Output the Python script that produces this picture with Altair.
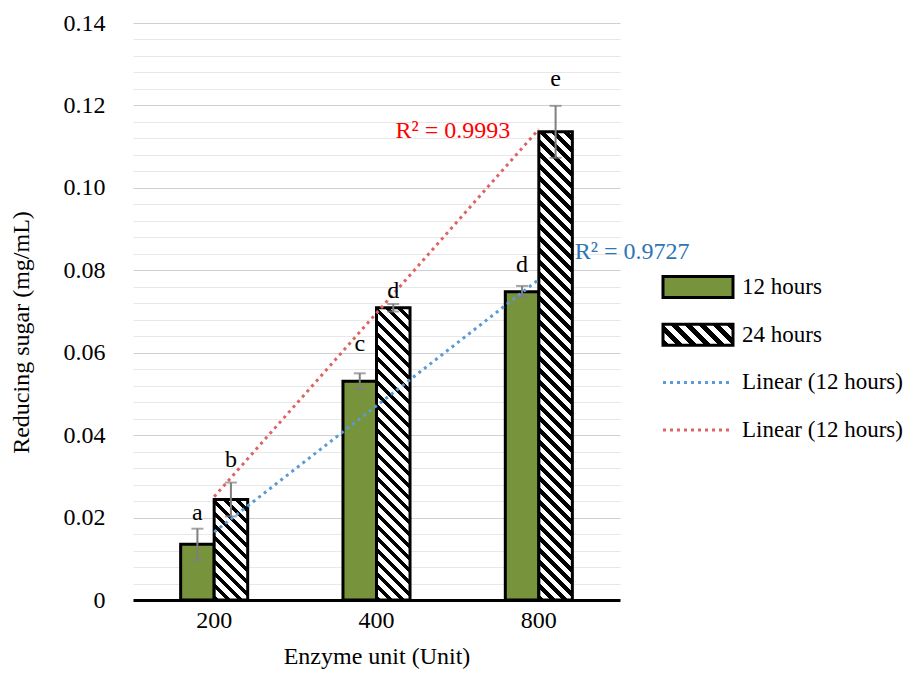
import altair as alt
import pandas as pd

# ---------------- data ----------------
enzyme_units = ["200", "400", "800"]
series_names = ["12 hours", "24 hours"]
mean_12h = [0.0135, 0.0531, 0.0748]
mean_24h = [0.0244, 0.0709, 0.1136]
sd_12h = [0.0038, 0.0019, 0.0014]
sd_24h = [0.0041, 0.0009, 0.0063]
letters_12h = ["a", "c", "d"]
letters_24h = ["b", "d", "e"]
letter_y_12h = [0.0194, 0.0604, 0.0797]
letter_y_24h = [0.0323, 0.0733, 0.1248]
r2_series = ["12 hours", "24 hours"]
r2_labels = ["R² = 0.9727", "R² = 0.9993"]
r2_units = ["800", "400"]
r2_y = [0.0845, 0.1137]
y_tick_values = [0, 0.02, 0.04, 0.06, 0.08, 0.10, 0.12, 0.14]
y_tick_labels = ["0", "0.02", "0.04", "0.06", "0.08", "0.10", "0.12", "0.14"]
legend_keys = ["g12", "g24", "lin12", "lin24"]
legend_labels = ["12 hours", "24 hours", "Linear (12 hours)", "Linear (12 hours)"]

# ---------------- layout / style ----------------
W, H = 487, 577
Y_MAX = 0.14
PX = H / Y_MAX
PAD_INNER = 0.587
STEP = W / 3
BAR_W = STEP * (1 - PAD_INNER) / 2
GREEN = "#77933C"
BLUE = "#5B9BD5"
RED = "#DE6464"
GRAY = "#7F7F7F"
FONT = "Liberation Serif"
FS = 24
LEG_FS = 23
LEG_X0, LEG_X1, LEG_TX = 530, 600, 609
LEG_C0, LEG_STEP, LEG_SW_H = 264, 47.7, 21


def hatch_fill(w, h, period=12.0, ink=0.45):
    r = h / w
    x2 = (1 + r) / (1 + r * r)
    y2 = (1 - r) / (1 + r * r)
    n = (w + h) / period
    stops = []
    k = 0
    while k < n:
        a = round(k / n, 5)
        b = round(min((k + ink) / n, 1.0), 5)
        c = round(min((k + 1) / n, 1.0), 5)
        stops += [
            alt.GradientStop(offset=a, color="#000000"),
            alt.GradientStop(offset=b, color="#000000"),
            alt.GradientStop(offset=b, color="#ffffff"),
            alt.GradientStop(offset=c, color="#ffffff"),
        ]
        k += 1
    return alt.LinearGradient(gradient="linear", stops=stops, x1=0, y1=1, x2=x2, y2=y2)


rows = []
for i, u in enumerate(enzyme_units):
    rows.append(dict(unit=u, idx=i + 1, series="12 hours", value=mean_12h[i], sd=sd_12h[i],
                     letter=letters_12h[i], letter_y=letter_y_12h[i]))
    rows.append(dict(unit=u, idx=i + 1, series="24 hours", value=mean_24h[i], sd=sd_24h[i],
                     letter=letters_24h[i], letter_y=letter_y_24h[i]))
df = pd.DataFrame(rows)
df_r2 = pd.DataFrame(dict(series=r2_series, label=r2_labels, unit=r2_units, y=r2_y))
df_leg = pd.DataFrame(dict(key=legend_keys, label=legend_labels))

minor_vals = [round(i * 0.004, 3) for i in range(36)]
label_expr = " : ".join(
    f"abs(datum.value - {v}) < 1e-6 ? '{t}'" for v, t in zip(y_tick_values, y_tick_labels)
) + " : ''"

y_scale = alt.Scale(domain=[0, Y_MAX], nice=False, zero=True)
y_axis = alt.Axis(
    values=minor_vals, labelExpr=label_expr, labelOverlap=False, ticks=False, tickSize=0,
    labelPadding=28, labelFontSize=FS, labelColor="black", domain=False, grid=True,
    gridColor={"condition": {"test": "round(datum.value * 250) % 5 === 0", "value": "#d0d0d0"},
               "value": "#e8e8e8"},
    gridWidth=1.2, title="Reducing sugar (mg/mL)", titleFontSize=24, titleFontWeight="normal",
    titleColor="black", titleX=-112, titleY=309, titleBaseline="middle",
)
x_axis = alt.Axis(
    labelAngle=0, ticks=False, tickSize=0, labelPadding=20, labelBaseline="middle",
    labelFontSize=FS, labelColor="black", domainColor="black", domainWidth=3, grid=False,
    title="Enzyme unit (Unit)", titleFontSize=FS, titleFontWeight="normal", titleColor="black",
    titleY=56, titleBaseline="middle",
)
x_scale = alt.Scale(domain=enzyme_units, paddingInner=PAD_INNER, paddingOuter=PAD_INNER / 2)
x_enc = alt.X("unit:N", sort=enzyme_units, scale=x_scale, axis=x_axis)
xo_enc = alt.XOffset("series:N", scale=alt.Scale(domain=series_names, paddingInner=0, paddingOuter=0))


def y_enc(field):
    return alt.Y(field, scale=y_scale, axis=y_axis)


base = alt.Chart(df)

bars12 = base.transform_filter(alt.datum.series == "12 hours").mark_bar(
    fill=GREEN, stroke="black", strokeWidth=3
).encode(x=x_enc, xOffset=xo_enc, y=y_enc("value:Q"))

bars24 = []
for i, u in enumerate(enzyme_units):
    bars24.append(
        base.transform_filter((alt.datum.series == "24 hours") & (alt.datum.unit == u)).mark_bar(
            fill=hatch_fill(BAR_W, mean_24h[i] * PX), stroke="black", strokeWidth=3
        ).encode(x=x_enc, xOffset=xo_enc, y=y_enc("value:Q"))
    )

err = base.transform_calculate(lo="datum.value - datum.sd", hi="datum.value + datum.sd")
err_rule = err.mark_rule(color=GRAY, strokeWidth=2).encode(
    x=x_enc, xOffset=xo_enc, y=y_enc("lo:Q"), y2="hi:Q")
cap_lo = err.mark_tick(color=GRAY, thickness=2, size=12).encode(
    x=x_enc, xOffset=xo_enc, y=y_enc("lo:Q"))
cap_hi = err.mark_tick(color=GRAY, thickness=2, size=12).encode(
    x=x_enc, xOffset=xo_enc, y=y_enc("hi:Q"))

letters = base.mark_text(fontSize=FS, baseline="alphabetic", color="black").encode(
    x=x_enc, xOffset=xo_enc, y=y_enc("letter_y:Q"), text="letter:N")

# linear trendlines (fit on category index, drawn at category centres)
unit_lookup = "[" + ",".join(f"'{u}'" for u in enzyme_units) + "][round(datum.idx) - 1]"
trend = base.transform_regression("idx", "value", groupby=["series"]).transform_calculate(
    unit=unit_lookup
).mark_line(strokeDash=[3, 4], strokeWidth=3, strokeCap="butt").encode(
    x=x_enc,
    y=y_enc("value:Q"),
    stroke=alt.Stroke("series:N", scale=alt.Scale(domain=series_names, range=[BLUE, RED]), legend=None),
)

r2_blue = alt.Chart(df_r2).transform_filter(alt.datum.series == "12 hours").mark_text(
    align="left", baseline="middle", fontSize=FS, color="#2E75B6", dx=36
).encode(x=x_enc, y=y_enc("y:Q"), text="label:N")
r2_red = alt.Chart(df_r2).transform_filter(alt.datum.series == "24 hours").mark_text(
    align="left", baseline="middle", fontSize=FS, color="#FF0000", dx=19
).encode(x=x_enc, y=y_enc("y:Q"), text="label:N")

# ---------------- legend (drawn beside the plot) ----------------
leg = alt.Chart(df_leg)
legend_layers = []
for k, key in enumerate(legend_keys):
    cy = LEG_C0 + k * LEG_STEP
    rows_k = leg.transform_filter(alt.datum.key == key)
    if key == "g12":
        legend_layers.append(rows_k.mark_rect(fill=GREEN, stroke="black", strokeWidth=3).encode(
            x=alt.value(LEG_X0), x2=alt.value(LEG_X1),
            y=alt.value(cy - LEG_SW_H / 2), y2=alt.value(cy + LEG_SW_H / 2)))
    elif key == "g24":
        legend_layers.append(rows_k.mark_rect(
            fill=hatch_fill(LEG_X1 - LEG_X0, LEG_SW_H, period=14.0), stroke="black", strokeWidth=3).encode(
            x=alt.value(LEG_X0), x2=alt.value(LEG_X1),
            y=alt.value(cy - LEG_SW_H / 2), y2=alt.value(cy + LEG_SW_H / 2)))
    else:
        col = BLUE if key == "lin12" else RED
        legend_layers.append(rows_k.mark_rule(
            strokeDash=[3, 4], strokeWidth=3, strokeCap="butt", color=col).encode(
            x=alt.value(LEG_X0), x2=alt.value(LEG_X1), y=alt.value(cy)))
    legend_layers.append(rows_k.mark_text(align="left", baseline="middle", fontSize=LEG_FS, color="black").encode(
        x=alt.value(LEG_TX), y=alt.value(cy), text="label:N"))

chart = alt.layer(
    bars12, *bars24, err_rule, cap_lo, cap_hi, trend, letters, r2_blue, r2_red, *legend_layers
).properties(
    width=W, height=H,
    autosize=alt.AutoSizeParams(type="none"),
    padding={"left": 125, "top": 15, "right": 284, "bottom": 69},
).configure(font=FONT).configure_view(stroke=None)

chart.save("out.html", embed_options={"renderer": "svg", "actions": False})
